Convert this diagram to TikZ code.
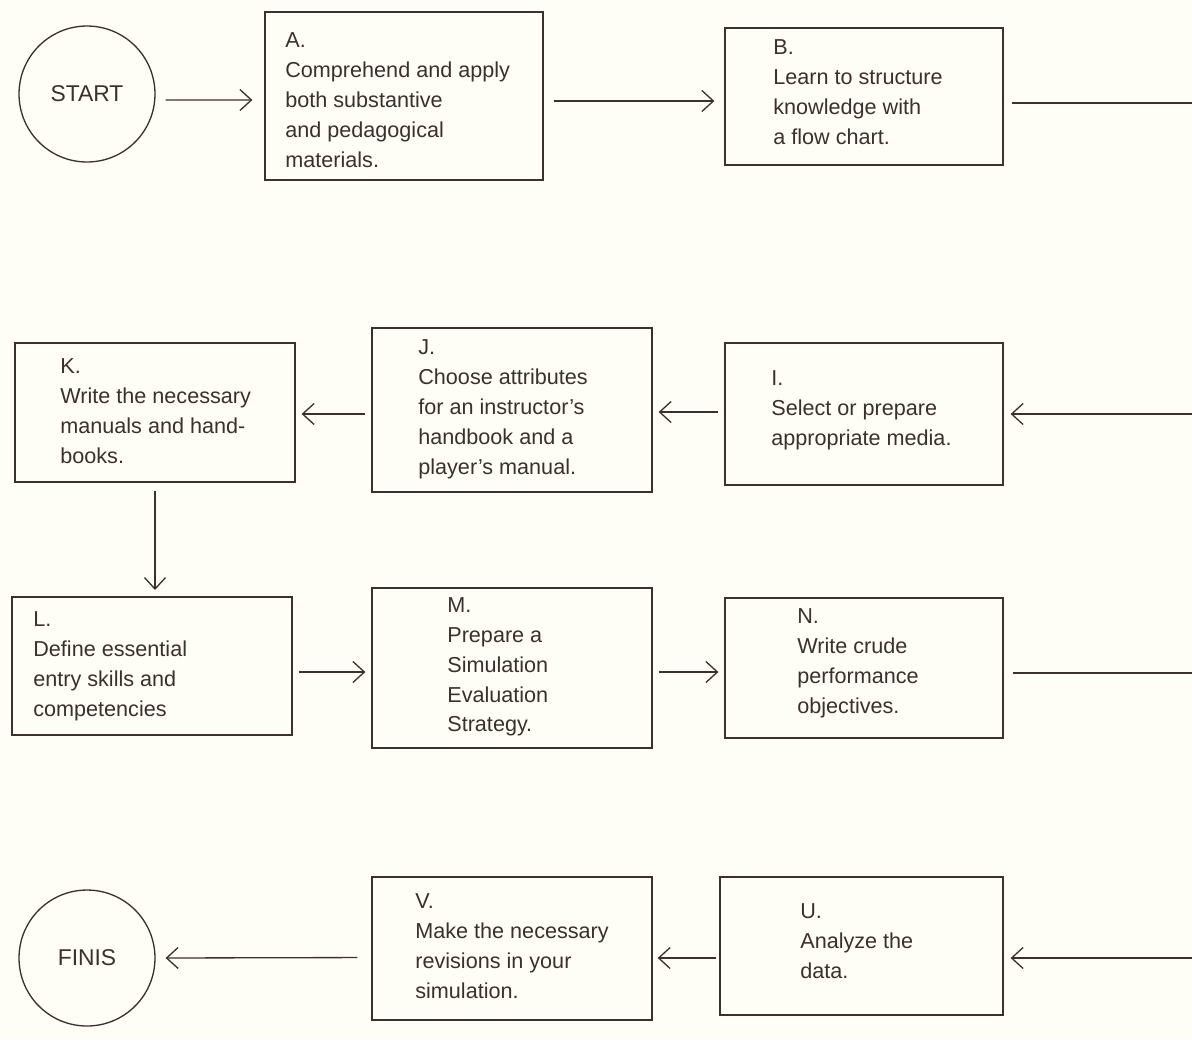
\documentclass[tikz,border=0pt]{standalone}
\usepackage{fontspec}
\setmainfont{Liberation Sans}
\usepackage{xcolor}
\usetikzlibrary{arrows.meta,positioning,calc}
\definecolor{paper}{RGB}{255,254,246}
\definecolor{ink}{RGB}{58,48,46}
\tikzset{
  stepbox/.style={draw=ink, line width=0.75pt, inner sep=0pt},
  steptext/.style={anchor=west, align=left, inner sep=0pt, text=ink, font=\fontsize{12.3}{17}\selectfont},
  termnode/.style={draw=ink, line width=0.75pt, circle, minimum size=2.72cm, inner sep=0pt, text=ink, font=\fontsize{13}{15}\selectfont},
  arr/.style={-{Straight Barb[length=2.3mm, width=4.2mm]}, ink, line width=0.75pt, shorten <=0.12cm, shorten >=0.12cm},
  ln/.style={ink, line width=0.75pt},
}
\begin{document}
\begin{tikzpicture}[x=0.02cm, y=-0.02cm]
  \fill[paper] (0,0) rectangle (1192,1039);
  \useasboundingbox (0,0) rectangle (1192,1039);
  % row 1
  \node[termnode] (start) at (87,94) {START};
  \node[stepbox, minimum width=5.56cm, minimum height=3.36cm] (A) at (404,96) {};
  \node[steptext] (Atext) at (285,100) {A.\\Comprehend and apply\\both substantive\\and pedagogical\\materials.};
  \node[stepbox, minimum width=5.56cm, minimum height=2.74cm] (B) at (864,96.5) {};
  \node[steptext] (Btext) at (773,92) {B.\\Learn to structure\\knowledge with\\a flow chart.};
  \coordinate (Bout) at (1192,103);
  \draw[arr, shorten <=0.2cm, shorten >=0.24cm] ([yshift=-0.12cm]start.east) -- ([yshift=-0.08cm]A.west);
  \draw[arr, shorten <=0.2cm, shorten >=0.2cm] ([yshift=-0.1cm]A.east) -- ([yshift=-0.1cm]A.east -| B.west);
  \draw[ln, shorten <=0.16cm] (Bout -| B.east) -- (Bout);
  % row 2
  \node[stepbox, minimum width=5.6cm, minimum height=2.78cm] (K) at (155,412.5) {};
  \node[steptext] (Ktext) at (60,411) {K.\\Write the necessary\\manuals and hand-\\books.};
  \node[stepbox, minimum width=5.6cm, minimum height=3.28cm] (J) at (512,410) {};
  \node[steptext] (Jtext) at (418,409.5) {J.\\Choose attributes\\for an instructor's\\handbook and a\\player's manual.};
  \node[stepbox, minimum width=5.56cm, minimum height=2.84cm] (I) at (864,414) {};
  \node[steptext] (Itext) at (771,410) {I.\\Select or prepare\\appropriate media.};
  \coordinate (Iin) at (1192,414);
  \draw[arr, shorten <=0cm, shorten >=0.14cm] (Iin) -- (Iin -| I.east);
  \draw[arr] ([yshift=0.04cm]I.west) -- ([yshift=0.04cm]I.west -| J.east);
  \draw[arr] ([yshift=-0.08cm]J.west) -- ([yshift=-0.08cm]J.west -| K.east);
  \draw[arr, shorten <=0.16cm, shorten >=0.14cm] (K.south) -- (K.south |- 0,597);
  % row 3
  \node[stepbox, minimum width=5.6cm, minimum height=2.76cm] (L) at (152,666) {};
  \node[steptext] (Ltext) at (33,666) {L.\\Define essential\\entry skills and\\competencies};
  \node[stepbox, minimum width=5.6cm, minimum height=3.2cm] (M) at (512,668) {};
  \node[steptext] (Mtext) at (447,667) {M.\\Prepare a\\Simulation\\Evaluation\\Strategy.};
  \node[stepbox, minimum width=5.56cm, minimum height=2.8cm] (N) at (864,668) {};
  \node[steptext] (Ntext) at (797,663.5) {N.\\Write crude\\performance\\objectives.};
  \coordinate (Nout) at (1192,673);
  \draw[arr] ([yshift=-0.12cm]L.east) -- ([yshift=-0.12cm]L.east -| M.west);
  \draw[arr] ([yshift=-0.08cm]M.east) -- ([yshift=-0.08cm]M.east -| N.west);
  \draw[ln, shorten <=0.18cm] (Nout -| N.east) -- (Nout);
  % row 4
  \node[termnode] (finis) at (87,958) {FINIS};
  \node[stepbox, minimum width=5.6cm, minimum height=2.86cm] (V) at (512,948.5) {};
  \node[steptext] (Vtext) at (415,946) {V.\\Make the necessary\\revisions in your\\simulation.};
  \node[stepbox, minimum width=5.66cm, minimum height=2.76cm] (U) at (861.5,946) {};
  \node[steptext] (Utext) at (800,941.5) {U.\\Analyze the\\data.};
  \coordinate (Uin) at (1192,958);
  \draw[arr, shorten <=0cm, shorten >=0.14cm] (Uin) -- (Uin -| U.east);
  \draw[arr, shorten <=0.06cm, shorten >=0.1cm] ([yshift=-0.24cm]U.west) -- ([yshift=-0.24cm]U.west -| V.east);
  \draw[arr, shorten <=0.28cm, shorten >=0.2cm] ([yshift=-0.18cm]V.west) -- (finis.east);
\end{tikzpicture}
\end{document}
